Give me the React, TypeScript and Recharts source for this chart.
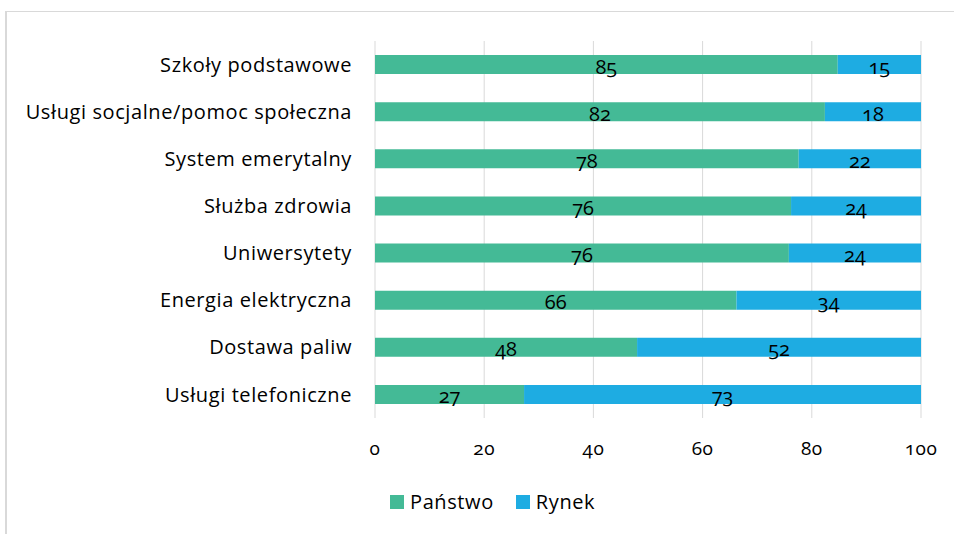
import { BarChart, Bar, XAxis, YAxis, CartesianGrid, Legend, LabelList } from 'recharts';

// Shares (%); labels show them rounded
const categories = [
  'Szkoły podstawowe',
  'Usługi socjalne/pomoc społeczna',
  'System emerytalny',
  'Służba zdrowia',
  'Uniwersytety',
  'Energia elektryczna',
  'Dostawa paliw',
  'Usługi telefoniczne',
];
const panstwo = [84.75, 82.4, 77.6, 76.2, 75.8, 66.2, 48.0, 27.3];
const rynek = [15.25, 17.6, 22.4, 23.8, 24.2, 33.8, 52.0, 72.7];
const xTicks = [0, 20, 40, 60, 80, 100];
const seriesNames = ['Państwo', 'Rynek'];

const data = categories.map((name, i) => ({ name, panstwo: panstwo[i], rynek: rynek[i] }));

const FONT = '"Open Sans", Lato, sans-serif';
const GREEN = '#44BA96';
const BLUE = '#1EACE2';
const GRID = '#d9d9d9';

const fmt = (v: any) => Math.round(Number(v)).toString();

function LegendBox() {
  const colors = [GREEN, BLUE];
  return (
    <div
      style={{
        display: 'flex',
        alignItems: 'center',
        fontFamily: FONT,
        fontSize: 20,
        letterSpacing: 0.6,
        color: '#000',
      }}
    >
      {seriesNames.map((n, i) => (
        <div key={n} style={{ display: 'flex', alignItems: 'center', marginRight: i === 0 ? 22 : 0 }}>
          <span style={{ display: 'inline-block', width: 14, height: 14, background: colors[i], marginRight: 6 }} />
          <span>{n}</span>
        </div>
      ))}
    </div>
  );
}

export default function App() {
  return (
    <div
      style={{
        position: 'fixed',
        left: 0,
        top: 0,
        width: 954,
        height: 534,
        overflow: 'hidden',
        background: '#fff',
        fontFamily: FONT,
        fontVariantNumeric: 'oldstyle-nums',
      }}
    >
      {/* chart frame, cut off by the window on the right and bottom */}
      <div style={{ position: 'absolute', left: 5, top: 11, width: 2, height: 530, background: GRID }} />
      <div style={{ position: 'absolute', left: 5, top: 11, width: 960, height: 1, background: GRID }} />
      <div style={{ position: 'absolute', left: 0, top: 0 }}>
        <BarChart
          width={954}
          height={534}
          data={data}
          layout="vertical"
          margin={{ top: 41, right: 33, bottom: 18, left: 0 }}
        >
          <CartesianGrid horizontal={false} stroke={GRID} strokeWidth={1} />
          <XAxis
            type="number"
            domain={[0, 100]}
            ticks={xTicks}
            axisLine={false}
            tickLine={false}
            tickMargin={18}
            height={68}
            tick={{ fill: '#000', fontSize: 19, fontFamily: FONT, letterSpacing: 0.5 }}
          />
          <YAxis
            type="category"
            dataKey="name"
            width={375}
            axisLine={false}
            tickLine={false}
            tickMargin={17}
            tick={{ fill: '#000', fontSize: 20, fontFamily: FONT, letterSpacing: 0.6 }}
          />
          <Legend
            height={30}
            content={() => <LegendBox />}
            wrapperStyle={{ left: 390, top: 488, width: 260 }}
          />
          <Bar dataKey="panstwo" name={seriesNames[0]} stackId="a" fill={GREEN} barSize={19} isAnimationActive={false}>
            <LabelList dataKey="panstwo" position="center" formatter={fmt} fill="#000" fontSize={20} dy={2} />
          </Bar>
          <Bar dataKey="rynek" name={seriesNames[1]} stackId="a" fill={BLUE} barSize={19} isAnimationActive={false}>
            <LabelList dataKey="rynek" position="center" formatter={fmt} fill="#000" fontSize={20} dy={2} />
          </Bar>
        </BarChart>
      </div>
    </div>
  );
}
